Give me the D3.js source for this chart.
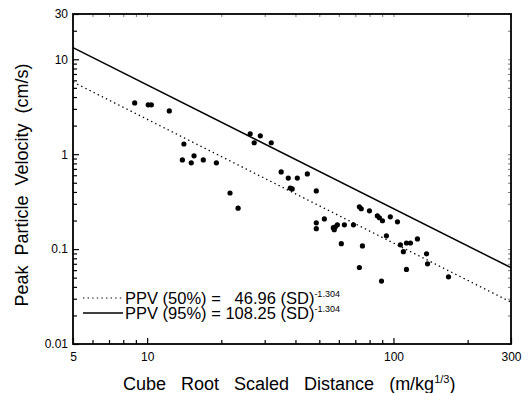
<!DOCTYPE html>
<html>
<head>
<meta charset="utf-8">
<script src="https://cdn.jsdelivr.net/npm/d3@7"></script>
<style>
  html, body { margin: 0; padding: 0; background: #fff; }
  svg { display: block; font-family: Arial, "Liberation Sans", Helvetica, sans-serif; }
  .axis path { display: none; }
  .axis line { stroke: #000; stroke-width: 1.2; }
  .axis text { fill: #000; font-size: 12px; }
  .pre { white-space: pre; }
</style>
</head>
<body>
<svg id="chart" width="530" height="393"></svg>
<script>
// ── Data ──────────────────────────────────────────────────────────────────

// cube root scaled distance (m/kg^1/3)
const sdValues = [
  8.9, 10.1, 10.4, 12.3, 14.1, 13.9, 15.1, 15.5, 16.9, 19.1,
  21.7, 23.4, 26.2, 27.2, 28.8, 31.9, 35.0, 37.4, 40.7, 44.7,
  38.1, 38.8, 48.6, 48.6, 48.6, 52.4, 57.0, 57.5, 58.1, 59.2,
  63.2, 68.8, 61.4, 74.8, 72.7, 89.4, 72.7, 74.0, 79.9, 86.0,
  87.7, 90.2, 97.1, 103.8, 93.6, 106.7, 112.9, 117.2, 109.7, 125.1,
  136.2, 137.5, 112.9, 167.3
];

// peak particle velocity (cm/s)
const ppvValues = [
  3.47, 3.31, 3.31, 2.86, 1.28, 0.87, 0.81, 0.96, 0.87, 0.81,
  0.39, 0.27, 1.64, 1.32, 1.56, 1.32, 0.65, 0.56, 0.56, 0.62,
  0.44, 0.43, 0.41, 0.189, 0.164, 0.208, 0.168, 0.160, 0.172, 0.180,
  0.180, 0.180, 0.114, 0.108, 0.064, 0.046, 0.279, 0.266, 0.253, 0.224,
  0.214, 0.199, 0.219, 0.194, 0.138, 0.111, 0.116, 0.116, 0.094, 0.128,
  0.089, 0.070, 0.061, 0.051
];

// fitted lines: PPV = k * SD^b
const fitLabels = ['PPV (50%) =   46.96 (SD)', 'PPV (95%) = 108.25 (SD)'];
const fitCoef   = [46.96, 108.25];
const fitExp    = -1.304;
const fitDash   = ['1.4,3.2', null];

const xMajor = [5, 10, 100, 300];
const xMinor = [6, 7, 8, 9, 20, 30, 40, 50, 60, 70, 80, 90, 200];
const yMajor = [0.01, 0.1, 1, 10, 30];
const yMinor = [0.02, 0.03, 0.04, 0.05, 0.06, 0.07, 0.08, 0.09,
                0.2, 0.3, 0.4, 0.5, 0.6, 0.7, 0.8, 0.9,
                2, 3, 4, 5, 6, 7, 8, 9, 20];

// ── Layout ────────────────────────────────────────────────────────────────

const margin = { top: 14, right: 19, bottom: 49, left: 73 };
const W = 530, H = 393;
const iw = W - margin.left - margin.right;
const ih = H - margin.top - margin.bottom;

const svg = d3.select('#chart');
const g = svg.append('g').attr('transform', `translate(${margin.left},${margin.top})`);

const x = d3.scaleLog().domain([5, 300]).range([0, iw]);
const y = d3.scaleLog().domain([0.01, 30]).range([ih, 0]);

// ── Axes (ticks point inward) ─────────────────────────────────────────────

const fmt = d => String(d);

g.append('g').attr('class', 'axis')
  .attr('transform', `translate(0,${ih})`)
  .call(d3.axisBottom(x).tickValues(xMinor).tickSize(-4).tickFormat(''));
g.append('g').attr('class', 'axis')
  .attr('transform', `translate(0,${ih})`)
  .call(d3.axisBottom(x).tickValues(xMajor).tickSize(-6).tickPadding(8).tickFormat(fmt));

g.append('g').attr('class', 'axis')
  .call(d3.axisLeft(y).tickValues(yMinor).tickSize(-4).tickFormat(''));
g.append('g').attr('class', 'axis')
  .call(d3.axisLeft(y).tickValues(yMajor).tickSize(-6).tickPadding(5).tickFormat(fmt));

// faint mirrored ticks on top and right
g.append('g').attr('class', 'axis mirror')
  .call(d3.axisTop(x).tickValues(xMinor.concat(xMajor)).tickSize(-3).tickFormat(''));
g.append('g').attr('class', 'axis mirror')
  .attr('transform', `translate(${iw},0)`)
  .call(d3.axisRight(y).tickValues(yMinor.concat(yMajor)).tickSize(-3).tickFormat(''));
g.selectAll('.mirror line').style('stroke', '#777').style('stroke-width', 1);

// frame
g.append('rect')
  .attr('width', iw).attr('height', ih)
  .attr('fill', 'none').attr('stroke', '#000').attr('stroke-width', 1.8);

// ── Fit lines ─────────────────────────────────────────────────────────────

const line = d3.line().x(d => x(d[0])).y(d => y(d[1]));
const xDom = x.domain();

fitCoef.forEach((k, i) => {
  const pts = xDom.map(v => [v, k * Math.pow(v, fitExp)]);
  g.append('path')
    .attr('d', line(pts))
    .attr('fill', 'none')
    .attr('stroke', '#000')
    .attr('stroke-width', fitDash[i] ? 1.3 : 1.5)
    .attr('stroke-dasharray', fitDash[i]);
});

// ── Points ────────────────────────────────────────────────────────────────

g.append('g').selectAll('circle')
  .data(sdValues.map((v, i) => [v, ppvValues[i]]))
  .join('circle')
  .attr('cx', d => x(d[0]))
  .attr('cy', d => y(d[1]))
  .attr('r', 2.6)
  .attr('fill', '#000');

// ── Legend ────────────────────────────────────────────────────────────────

const legend = g.append('g').attr('transform', `translate(10,${298 - margin.top})`);

fitLabels.forEach((lab, i) => {
  const row = legend.append('g').attr('transform', `translate(0,${i * 15})`);
  row.append('line')
    .attr('x1', 0).attr('x2', 40).attr('y1', 0).attr('y2', 0)
    .attr('stroke', '#000')
    .attr('stroke-width', fitDash[i] ? 1.2 : 1.4)
    .attr('stroke-dasharray', fitDash[i]);
  const t = row.append('text')
    .attr('class', 'pre')
    .attr('x', 42).attr('y', 5.5)
    .attr('font-size', 16.5)
    .text(lab);
  t.append('tspan')
    .attr('dy', -7).attr('font-size', 9)
    .text(fitExp.toFixed(3));
});

// ── Axis titles ───────────────────────────────────────────────────────────

svg.append('text')
  .attr('class', 'pre')
  .attr('transform', 'translate(28,185) rotate(-90)')
  .attr('text-anchor', 'middle')
  .attr('font-size', 18)
  .text('Peak  Particle  Velocity  (cm/s)');

const xt = svg.append('text')
  .attr('class', 'pre')
  .attr('x', 123)
  .attr('y', 390)
  .attr('font-size', 18)
  .text('Cube   Root   Scaled   Distance   (m/kg');
xt.append('tspan').attr('dy', -7).attr('font-size', 11).text('1/3');
xt.append('tspan').attr('dy', 7).text(')');
</script>
</body>
</html>
